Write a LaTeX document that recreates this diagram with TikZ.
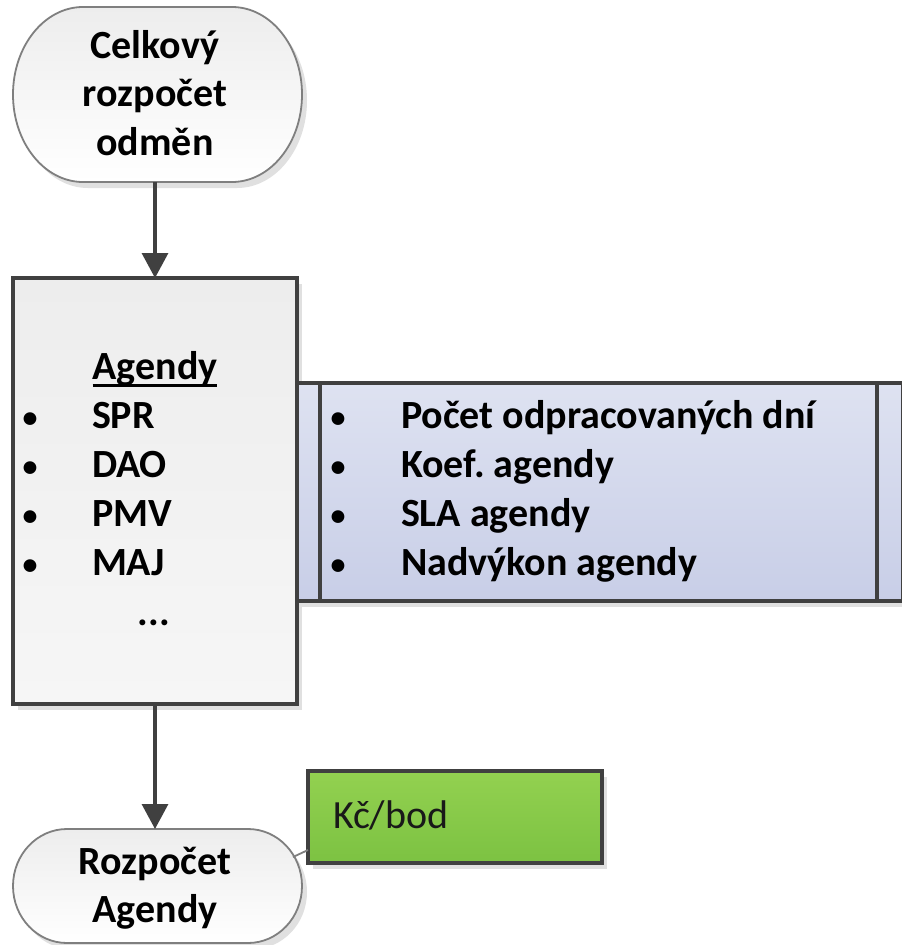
\documentclass[tikz,border=0pt]{standalone}
\usepackage{fontspec}
\setmainfont{Carlito}
\usetikzlibrary{arrows.meta,shadows}
\definecolor{edgegray}{HTML}{404040}
\definecolor{termedge}{HTML}{7F7F7F}
\definecolor{shadowgray}{HTML}{E0E0E0}
\definecolor{bluetop}{HTML}{DEE2F1}
\definecolor{bluebot}{HTML}{C8CEE7}
\definecolor{greentop}{HTML}{93D150}
\definecolor{greenbot}{HTML}{7CC242}
\definecolor{graytop}{HTML}{EDEDED}
\definecolor{graybot}{HTML}{F6F6F6}
\newcommand\wordul[1]{\setbox0\hbox{#1}\rlap{\rule[-7.5pt]{\wd0}{2.6pt}}\box0}
\frenchspacing
\begin{document}
\begin{tikzpicture}[x=1pt,y=1pt,
  every node/.style={inner sep=0pt,outer sep=0pt},
  shadowed/.style={drop shadow={shadow xshift=5pt,shadow yshift=-6pt,fill=shadowgray,opacity=1}},
  termline/.style={draw=termedge,line width=1.8pt,top color=graytop,bottom color=white,shadowed},
  shapebox/.style={rectangle,draw=none},
  mainbox/.style={rectangle,draw=edgegray,line width=3.2pt,top color=graytop,bottom color=graybot,shadowed},
  bluebox/.style={rectangle,draw=edgegray,line width=3.2pt,top color=bluetop,bottom color=bluebot,shadowed},
  greenbox/.style={rectangle,draw=edgegray,line width=3.2pt,top color=greentop,bottom color=greenbot,shadowed},
  innerline/.style={draw=edgegray,line width=3.2pt},
  txt/.style={font=\fontsize{40}{48.5}\selectfont\bfseries,text=black},
  dot/.style={font=\fontsize{30}{36}\selectfont\bfseries,text=black},
  txtreg/.style={font=\fontsize{40}{48}\selectfont,text=black!90},
  flow/.style={draw=edgegray,line width=3.2pt,-{Triangle[width=26pt,length=25pt]}},
  calloutline/.style={draw=termedge,line width=1.8pt}
]
\fill[white] (0,0) rectangle (902,-945);
\useasboundingbox (0,0) rectangle (902,-945);

% top terminator
\node[shapebox,minimum width=289pt,minimum height=175pt] (top) at (157.5,-94.5) {};
\draw[termline] ([xshift=70pt]top.north west) -- ([xshift=-70pt]top.north east)
  arc[start angle=90,end angle=-90,x radius=70pt,y radius=87.5pt]
  -- ([xshift=70pt]top.south west)
  arc[start angle=270,end angle=90,x radius=70pt,y radius=87.5pt] -- cycle;
\node[txt,align=center] (toptext) at (155,-93) {Celkový\\rozpočet\\odměn};

% main box
\node[mainbox,minimum width=284pt,minimum height=426pt] (agendy) at (155,-491) {};
\node[txt,anchor=base] (agtitle) at (155,-379) {\wordul{Agendy}};
\node[dot,anchor=base] (b1) at (30,-427) {•};
\node[txt,anchor=base west] (spr) at (92,-428) {SPR};
\node[dot,anchor=base] (b2) at (30,-476) {•};
\node[txt,anchor=base west] (dao) at (92,-477) {DAO};
\node[dot,anchor=base] (b3) at (30,-525) {•};
\node[txt,anchor=base west] (pmv) at (92,-526) {PMV};
\node[dot,anchor=base] (b4) at (30,-574) {•};
\node[txt,anchor=base west] (maj) at (92,-575) {MAJ};
\node[txt,anchor=base] (dots) at (154,-625) {...};

% blue predefined-process box
\node[bluebox,minimum width=606pt,minimum height=218pt] (factors) at (600,-492) {};
\draw[innerline] ([xshift=23pt]factors.north west) -- ([xshift=23pt]factors.south west);
\draw[innerline] ([xshift=-26pt]factors.north east) -- ([xshift=-26pt]factors.south east);
\node[dot,anchor=base] (f1) at (338,-427) {•};
\node[txt,anchor=base west] (pocet) at (401,-428) {Počet odpracovaných dní};
\node[dot,anchor=base] (f2) at (338,-476) {•};
\node[txt,anchor=base west] (koef) at (401,-477) {Koef. agendy};
\node[dot,anchor=base] (f3) at (338,-525) {•};
\node[txt,anchor=base west] (sla) at (401,-526) {SLA agendy};
\node[dot,anchor=base] (f4) at (338,-574) {•};
\node[txt,anchor=base west] (nadv) at (401,-575) {Nadvýkon agendy};

% bottom terminator
\node[shapebox,minimum width=289pt,minimum height=114pt] (bot) at (157.5,-886) {};
\draw[termline] ([xshift=54pt]bot.north west) -- ([xshift=-54pt]bot.north east)
  arc[start angle=90,end angle=-90,x radius=54pt,y radius=57pt]
  -- ([xshift=54pt]bot.south west)
  arc[start angle=270,end angle=90,x radius=54pt,y radius=57pt] -- cycle;
\node[txt,align=center] (bottext) at (155,-888) {Rozpočet\\Agendy};

% green note
\node[greenbox,minimum width=294pt,minimum height=92pt] (kc) at (455,-817) {};
\node[txtreg,anchor=base west] (kctext) at (333,-828) {Kč/bod};
\coordinate (kcfoot) at (293,-857);
\draw[calloutline] ([yshift=13pt]kc.south west) -- (kcfoot);

% connectors
\draw[flow] (agendy.north |- top.south) -- (agendy.north);
\draw[flow] (agendy.south) -- (agendy.south |- bot.north);
\end{tikzpicture}
\end{document}
